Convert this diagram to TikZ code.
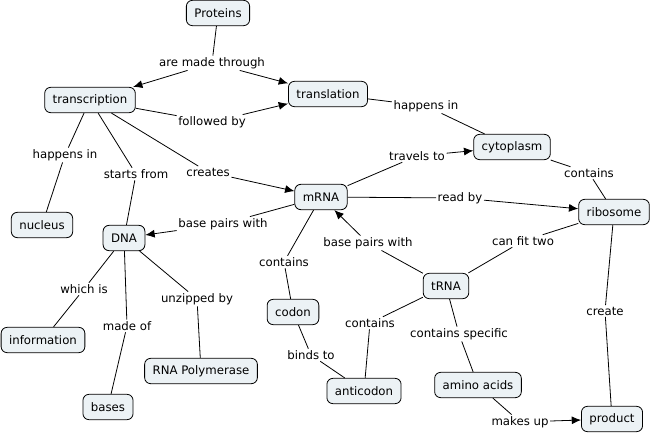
\documentclass[tikz,border=0pt]{standalone}
\usepackage{fontspec}
\setmainfont{DejaVu Sans}
\usetikzlibrary{arrows.meta}
\definecolor{conceptfill}{RGB}{236,242,245}
\tikzset{
  >={Latex[length=7pt,width=6pt]},
  concept/.style={draw,fill=conceptfill,rounded corners=4.5pt,minimum height=19pt,inner xsep=6pt,inner ysep=2pt,line width=0.6pt,font=\fontsize{8.8}{10}\selectfont},
  link/.style={inner sep=1pt,font=\fontsize{8.8}{10}\selectfont},
  every path/.append style={line width=0.6pt}
}
\begin{document}
\begin{tikzpicture}[x=0.75pt,y=-0.75pt]
\useasboundingbox (0,0) rectangle (652,435);
\node[concept](prot) at (218,13){Proteins};
\node[concept](transc) at (90,100){transcription};
\node[concept](transl) at (328,94){translation};
\node[concept](cyto) at (512,147){cytoplasm};
\node[concept](mrna) at (321,197){mRNA};
\node[concept](ribo) at (614,212){ribosome};
\node[concept](nucl) at (42,225){nucleus};
\node[concept](dna) at (124,238){DNA};
\node[concept](info) at (43,340){information};
\node[concept](bases) at (108,407){bases};
\node[concept](rnapol) at (201,371){RNA Polymerase};
\node[concept](codon) at (293,312){codon};
\node[concept](anti) at (364,391){anticodon};
\node[concept](trna) at (446,286){tRNA};
\node[concept](amino) at (478,385){amino acids};
\node[concept](prod) at (612,419){product};
\node[link](madethrough) at (212,63){are made through};
\node[link](followed) at (212,122){followed by};
\node[link](happnucl) at (65,155){happens in};
\node[link](starts) at (136,174){starts from};
\node[link](creates) at (208,172){creates};
\node[link](happcyto) at (426,106){happens in};
\node[link](travels) at (417,156){travels to};
\node[link](cytocont) at (589,173){contains};
\node[link](readby) at (460,198){read by};
\node[link](bpdna) at (223,224){base pairs with};
\node[link](mrnacont) at (284,262){contains};
\node[link](bpmrna) at (368,243){base pairs with};
\node[link](fittwo) at (523,241){can fit two};
\node[link](whichis) at (84,289){which is};
\node[link](madeof) at (127,326){made of};
\node[link](unzipped) at (197,299){unzipped by};
\node[link](binds) at (311,355){binds to};
\node[link](trnacont) at (370,323){contains};
\node[link](specific) at (459,334){contains specific};
\node[link](create) at (605,311){create};
\node[link](makesup) at (520,422){makes up};
\draw (prot) -- (madethrough);
\draw[->] (madethrough) -- (transc);
\draw[->] (madethrough) -- (transl);
\draw (transc) -- (followed);
\draw[->] (followed) -- (transl);
\draw (transc) -- (happnucl) -- (nucl);
\draw (transc) -- (starts) -- (dna);
\draw (transc) -- (creates);
\draw[->] (creates) -- (mrna);
\draw (transl) -- (happcyto) -- (cyto);
\draw (mrna) -- (travels);
\draw[->] (travels) -- (cyto);
\draw (cyto) -- (cytocont) -- (ribo);
\draw (mrna) -- (readby);
\draw[->] (readby) -- (ribo);
\draw (mrna) -- (bpdna);
\draw[->] (bpdna) -- (dna);
\draw (mrna) -- (mrnacont) -- (codon);
\draw (trna) -- (bpmrna);
\draw[->] (bpmrna) -- (mrna);
\draw (trna) -- (fittwo) -- (ribo);
\draw (dna) -- (whichis) -- (info);
\draw (dna) -- (madeof) -- (bases);
\draw (dna) -- (unzipped) -- (rnapol);
\draw (codon) -- (binds) -- (anti);
\draw (trna) -- (trnacont) -- (anti);
\draw (trna) -- (specific) -- (amino);
\draw (ribo) -- (create) -- (prod);
\draw (amino) -- (makesup);
\draw[->] (makesup) -- (prod);
\end{tikzpicture}
\end{document}
